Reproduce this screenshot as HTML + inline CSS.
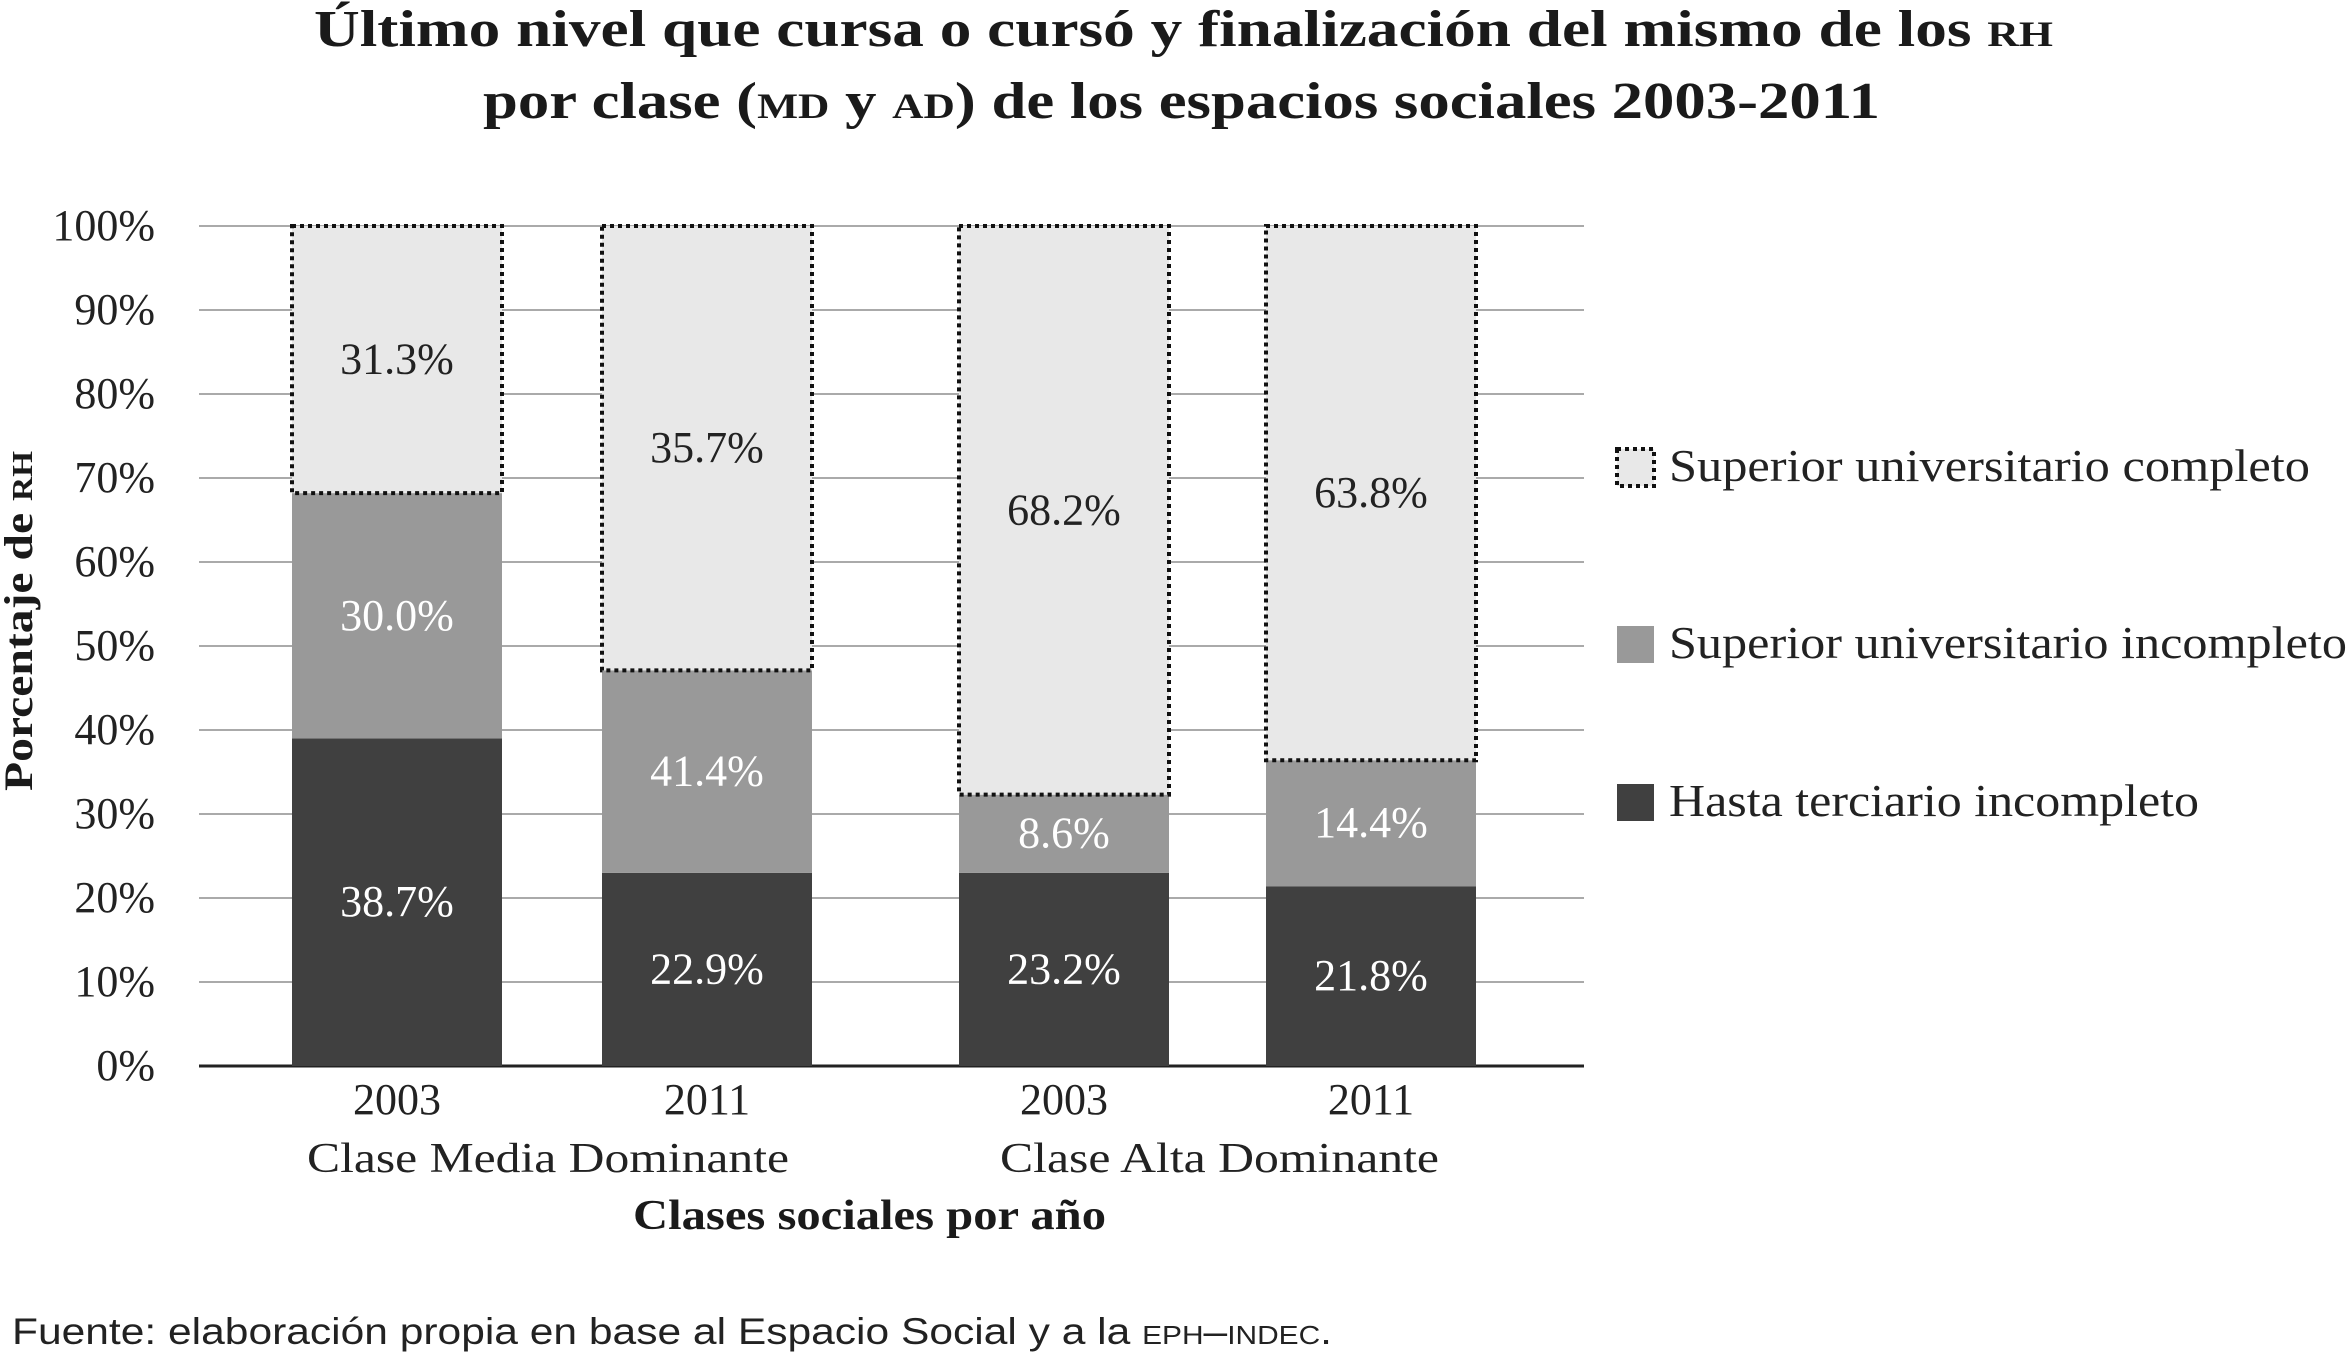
<!DOCTYPE html>
<html><head><meta charset="utf-8">
<style>
html,body{margin:0;padding:0;background:#fff;}
svg{display:block;font-family:"Liberation Serif",serif;}
.sc{font-variant:small-caps;}
</style></head>
<body>
<svg id="chart" width="2347" height="1359" viewBox="0 0 2347 1359" xmlns="http://www.w3.org/2000/svg">
<text x="314" y="46" textLength="1739" lengthAdjust="spacingAndGlyphs" font-size="52" font-weight="bold" fill="#1a1a1a">Último nivel que cursa o cursó y finalización del mismo de los <tspan class="sc">rh</tspan></text>
<text x="483" y="118" textLength="1397" lengthAdjust="spacingAndGlyphs" font-size="52" font-weight="bold" fill="#1a1a1a">por clase (<tspan class="sc">md</tspan> y <tspan class="sc">ad</tspan>) de los espacios sociales 2003-2011</text>
<g id="grid"></g>
<g id="bars"></g>
<g id="labels"></g>
<text transform="translate(32,621) rotate(-90)" x="-170" y="0" textLength="340" lengthAdjust="spacingAndGlyphs" font-size="40" font-weight="bold" fill="#1a1a1a">Porcentaje de <tspan class="sc">rh</tspan></text>
<text x="307" y="1172" textLength="482" lengthAdjust="spacingAndGlyphs" font-size="42" fill="#222">Clase Media Dominante</text>
<text x="1000" y="1172" textLength="439" lengthAdjust="spacingAndGlyphs" font-size="42" fill="#222">Clase Alta Dominante</text>
<text x="633" y="1229" textLength="473" lengthAdjust="spacingAndGlyphs" font-size="42" font-weight="bold" fill="#1a1a1a">Clases sociales por año</text>
<g>
<rect x="1617" y="449" width="37" height="37" fill="#e8e8e8" stroke="#111" stroke-width="4" stroke-dasharray="4,4"/>
<text x="1669" y="481" textLength="641" lengthAdjust="spacingAndGlyphs" font-size="46" fill="#222">Superior universitario completo</text>
<rect x="1617" y="626" width="37" height="37" fill="#999"/>
<text x="1669" y="658" textLength="678" lengthAdjust="spacingAndGlyphs" font-size="46" fill="#222">Superior universitario incompleto</text>
<rect x="1617" y="784" width="37" height="37" fill="#404040"/>
<text x="1669" y="816" textLength="530" lengthAdjust="spacingAndGlyphs" font-size="46" fill="#222">Hasta terciario incompleto</text>
</g>
<text x="12" y="1344" textLength="1320" lengthAdjust="spacingAndGlyphs" font-family="'Liberation Sans',sans-serif" font-size="37" fill="#222">Fuente: elaboración propia en base al Espacio Social y a la <tspan class="sc">eph–indec</tspan>.</text>
</svg>
<script>
const years = ["2003","2011","2003","2011"];
// segment heights as drawn in the reference
const hastaTerciario = [39.0,23.0,23.0,21.4];
const univIncompleto = [29.2,24.1,9.3,15.0];
const univCompleto = [31.8,52.9,67.7,63.6];
// printed value labels
const hastaLabels = [38.7,22.9,23.2,21.8];
const incompletoLabels = [30.0,41.4,8.6,14.4];
const completoLabels = [31.3,35.7,68.2,63.8];
const yTicks = [0,10,20,30,40,50,60,70,80,90,100];
const NS="http://www.w3.org/2000/svg";
const y0=1066, y1=226, plotL=199, plotR=1584;
const yS=v=>y0-(y0-y1)*v/100;
const barX=[292,602,959,1266], barW=210;
function mk(tag,attrs,parent){const e=document.createElementNS(NS,tag);for(const k in attrs)e.setAttribute(k,attrs[k]);parent.appendChild(e);return e;}
const grid=document.getElementById('grid'),bars=document.getElementById('bars'),labels=document.getElementById('labels');
yTicks.forEach(t=>{
  const l=mk('line',{x1:plotL,x2:plotR,y1:yS(t),y2:yS(t),stroke:t===0?'#222':'#aaa','stroke-width':t===0?3:2},grid);
  
  
  const tx=mk('text',{x:155,y:yS(t)+14,'text-anchor':'end','font-size':44,fill:'#222'},grid);
  tx.textContent=t+'%';
  
  
});
const series=[[hastaTerciario,hastaLabels,'#404040','hasta-terciario','#fff'],[univIncompleto,incompletoLabels,'#999','incompleto','#fff'],[univCompleto,completoLabels,'#e8e8e8','completo','#222']];
years.forEach((yr,i)=>{
  let base=0;
  series.forEach(([arr,lab,col,nm,tc])=>{
    const v=arr[i];
    const r=mk('rect',{x:barX[i],y:yS(base+v),width:barW,height:yS(base)-yS(base+v),fill:col},bars);
    if(nm==='completo'){r.setAttribute('stroke','#111');r.setAttribute('stroke-width','4');r.setAttribute('stroke-dasharray','4,4');}
    
    
    const t=mk('text',{x:barX[i]+barW/2,y:yS(base+v/2)+14,'text-anchor':'middle','font-size':44,fill:tc},labels);
    t.textContent=lab[i].toFixed(1)+'%';
    
    
    base+=v;
  });
  const xt=mk('text',{x:barX[i]+barW/2,y:1114,'text-anchor':'middle','font-size':44,fill:'#222'},labels);
  xt.textContent=yr;
  
  
});
</script>
</body></html>
